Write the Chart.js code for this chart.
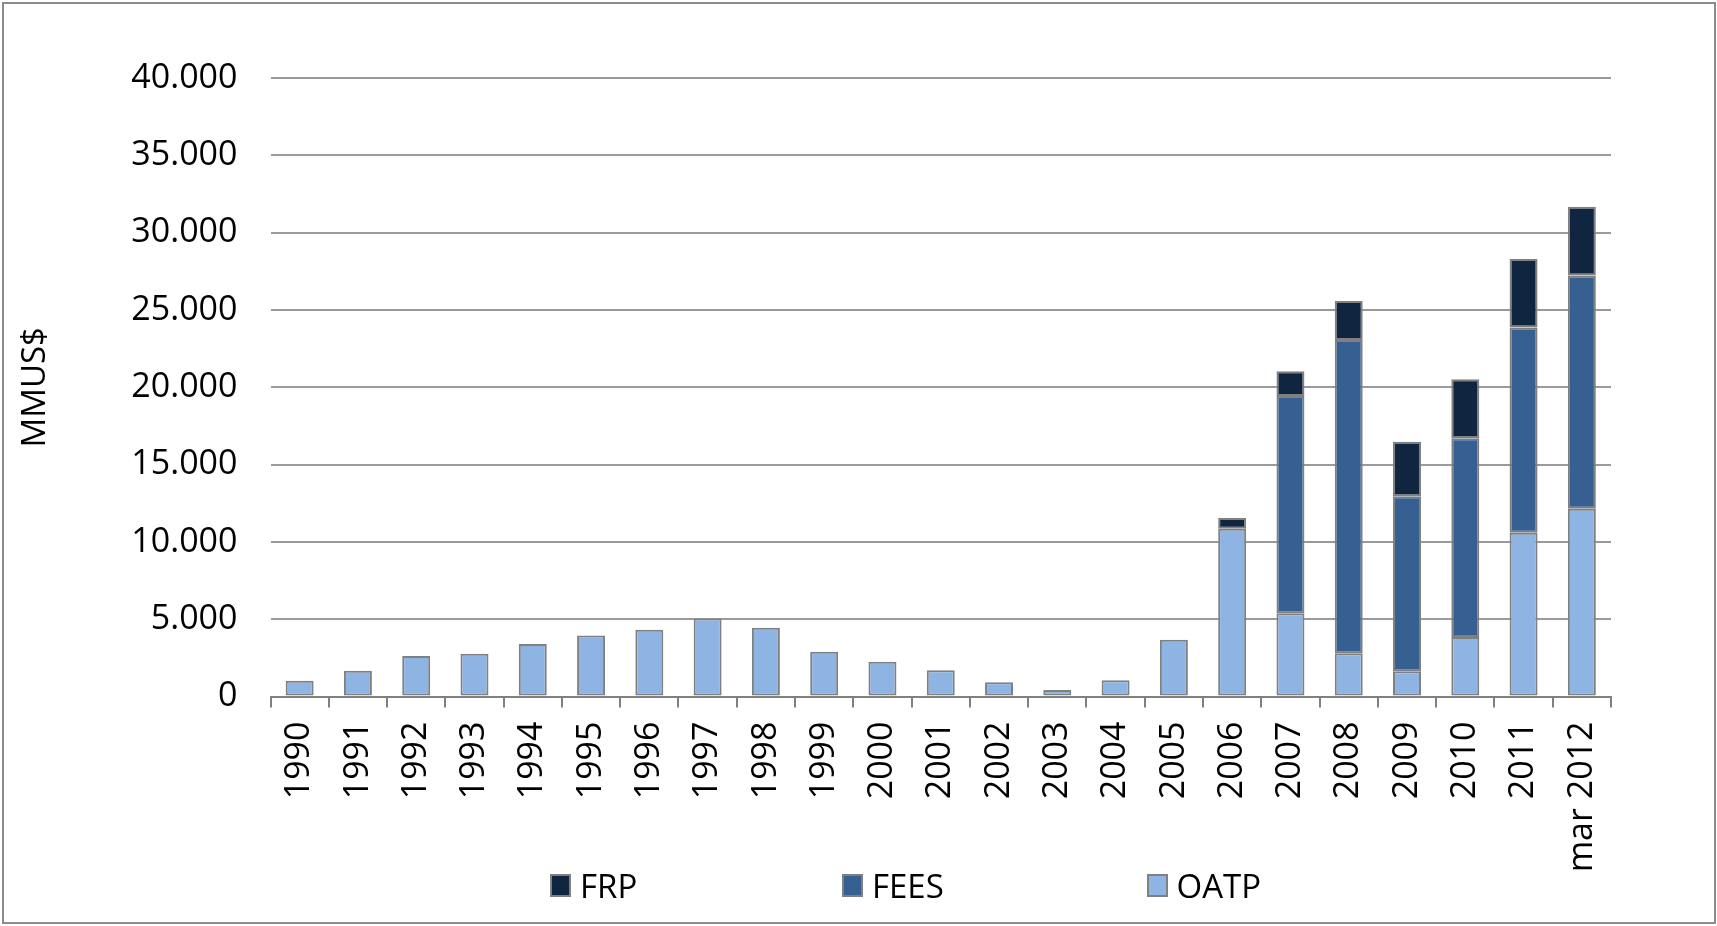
<!DOCTYPE html>
<html>
<head>
<meta charset="utf-8">
<title>MMUS$</title>
<script src="https://cdn.jsdelivr.net/npm/chart.js@4"></script>
<style>
  body { margin: 0; background: #fff; font-family: 'Open Sans', sans-serif; }
  #wrap { position: relative; width: 1717px; height: 926px; }
  #frame { position: absolute; left: 2px; top: 2px; width: 1710px; height: 918px; border: 2px solid #8c8c8c; pointer-events: none; }
  .legend-item { position: absolute; top: 863px; height: 44px; display: flex; align-items: center; font-size: 33px; color: #000; }
  .legend-box { width: 17px; height: 19px; border: 2px solid #808080; margin-right: 9px; }
</style>
</head>
<body>
<div id="wrap">
  <canvas id="fundsChart" width="1717" height="926"></canvas>
  <div id="frame"></div>
</div>
<script>
// Categories (x axis)
const years = ['1990', '1991', '1992', '1993', '1994', '1995', '1996', '1997', '1998', '1999',
  '2000', '2001', '2002', '2003', '2004', '2005', '2006', '2007', '2008', '2009', '2010', '2011', 'mar 2012'];

// Series values, MMUS$ (null = no segment)
const oatp = [1020, 1670, 2620, 2770, 3400, 3940, 4320, 5050, 4450, 2890,
  2240, 1690, 920, 420, 1050, 3670, 10850, 5380, 2800, 1630, 3840, 10590, 12150];
const fees = [null, null, null, null, null, null, null, null, null, null,
  null, null, null, null, null, null, null, 14050, 20260, 11320, 12860, 13270, 15070];
const frp = [null, null, null, null, null, null, null, null, null, null,
  null, null, null, null, null, null, 690, 1600, 2520, 3530, 3810, 4440, 4460];

// Y axis ticks
const yMax = 40000;
const yStep = 5000;

const seriesNames = ['OATP', 'FEES', 'FRP'];
const seriesColors = ['#8EB4E3', '#376092', '#10253F'];

// 40000 -> "40.000"
function formatThousands(v) {
  return String(v).replace(/\B(?=(\d{3})+(?!\d))/g, '.');
}

const FONT = "'Open Sans', sans-serif";
const GRID = '#9a9a9a';

const ctx = document.getElementById('fundsChart');
const chart = new Chart(ctx, {
  type: 'bar',
  data: {
    labels: years,
    datasets: [oatp, fees, frp].map((values, i) => ({
      label: seriesNames[i],
      data: values,
      backgroundColor: seriesColors[i],
      borderColor: '#808080',
      borderWidth: 2,
      borderSkipped: false,
      barPercentage: 0.48,
      categoryPercentage: 1
    }))
  },
  options: {
    responsive: false,
    animation: false,
    layout: {
      padding: { left: 0, right: 106, top: 78, bottom: 0 }
    },
    plugins: {
      legend: { display: false },
      tooltip: { enabled: false }
    },
    scales: {
      x: {
        stacked: true,
        border: { display: true, color: '#808080', width: 2 },
        grid: {
          offset: true,
          drawOnChartArea: false,
          drawTicks: true,
          tickLength: 11,
          color: '#808080',
          lineWidth: 2
        },
        ticks: {
          autoSkip: false,
          minRotation: 90,
          maxRotation: 90,
          padding: 14,
          color: '#000',
          font: { family: FONT, size: 34 }
        },
        afterFit: function(scale) {
          scale.height = 229.5;
        }
      },
      y: {
        stacked: true,
        min: 0,
        max: yMax,
        border: { display: false },
        grid: {
          color: GRID,
          lineWidth: 2,
          drawTicks: false
        },
        ticks: {
          stepSize: yStep,
          padding: 33,
          color: '#000',
          font: { family: FONT, size: 34 },
          callback: function(value) {
            return formatThousands(value);
          }
        },
        title: {
          display: true,
          text: 'MMUS$',
          color: '#000',
          padding: { top: 16, bottom: 0 },
          font: { family: FONT, size: 33 }
        },
        afterFit: function(scale) {
          scale.width = 270.5;
        }
      }
    }
  }
});

// Legend (FRP, FEES, OATP order as in the source)
const legendLeft = [1146.5, 842, 550];
const wrap = document.getElementById('wrap');
[2, 1, 0].forEach(i => {
  const item = document.createElement('div');
  item.className = 'legend-item';
  item.style.left = legendLeft[i] + 'px';
  const box = document.createElement('div');
  box.className = 'legend-box';
  box.style.background = seriesColors[i];
  const txt = document.createElement('span');
  txt.textContent = seriesNames[i];
  item.appendChild(box);
  item.appendChild(txt);
  wrap.appendChild(item);
});
</script>
</body>
</html>
